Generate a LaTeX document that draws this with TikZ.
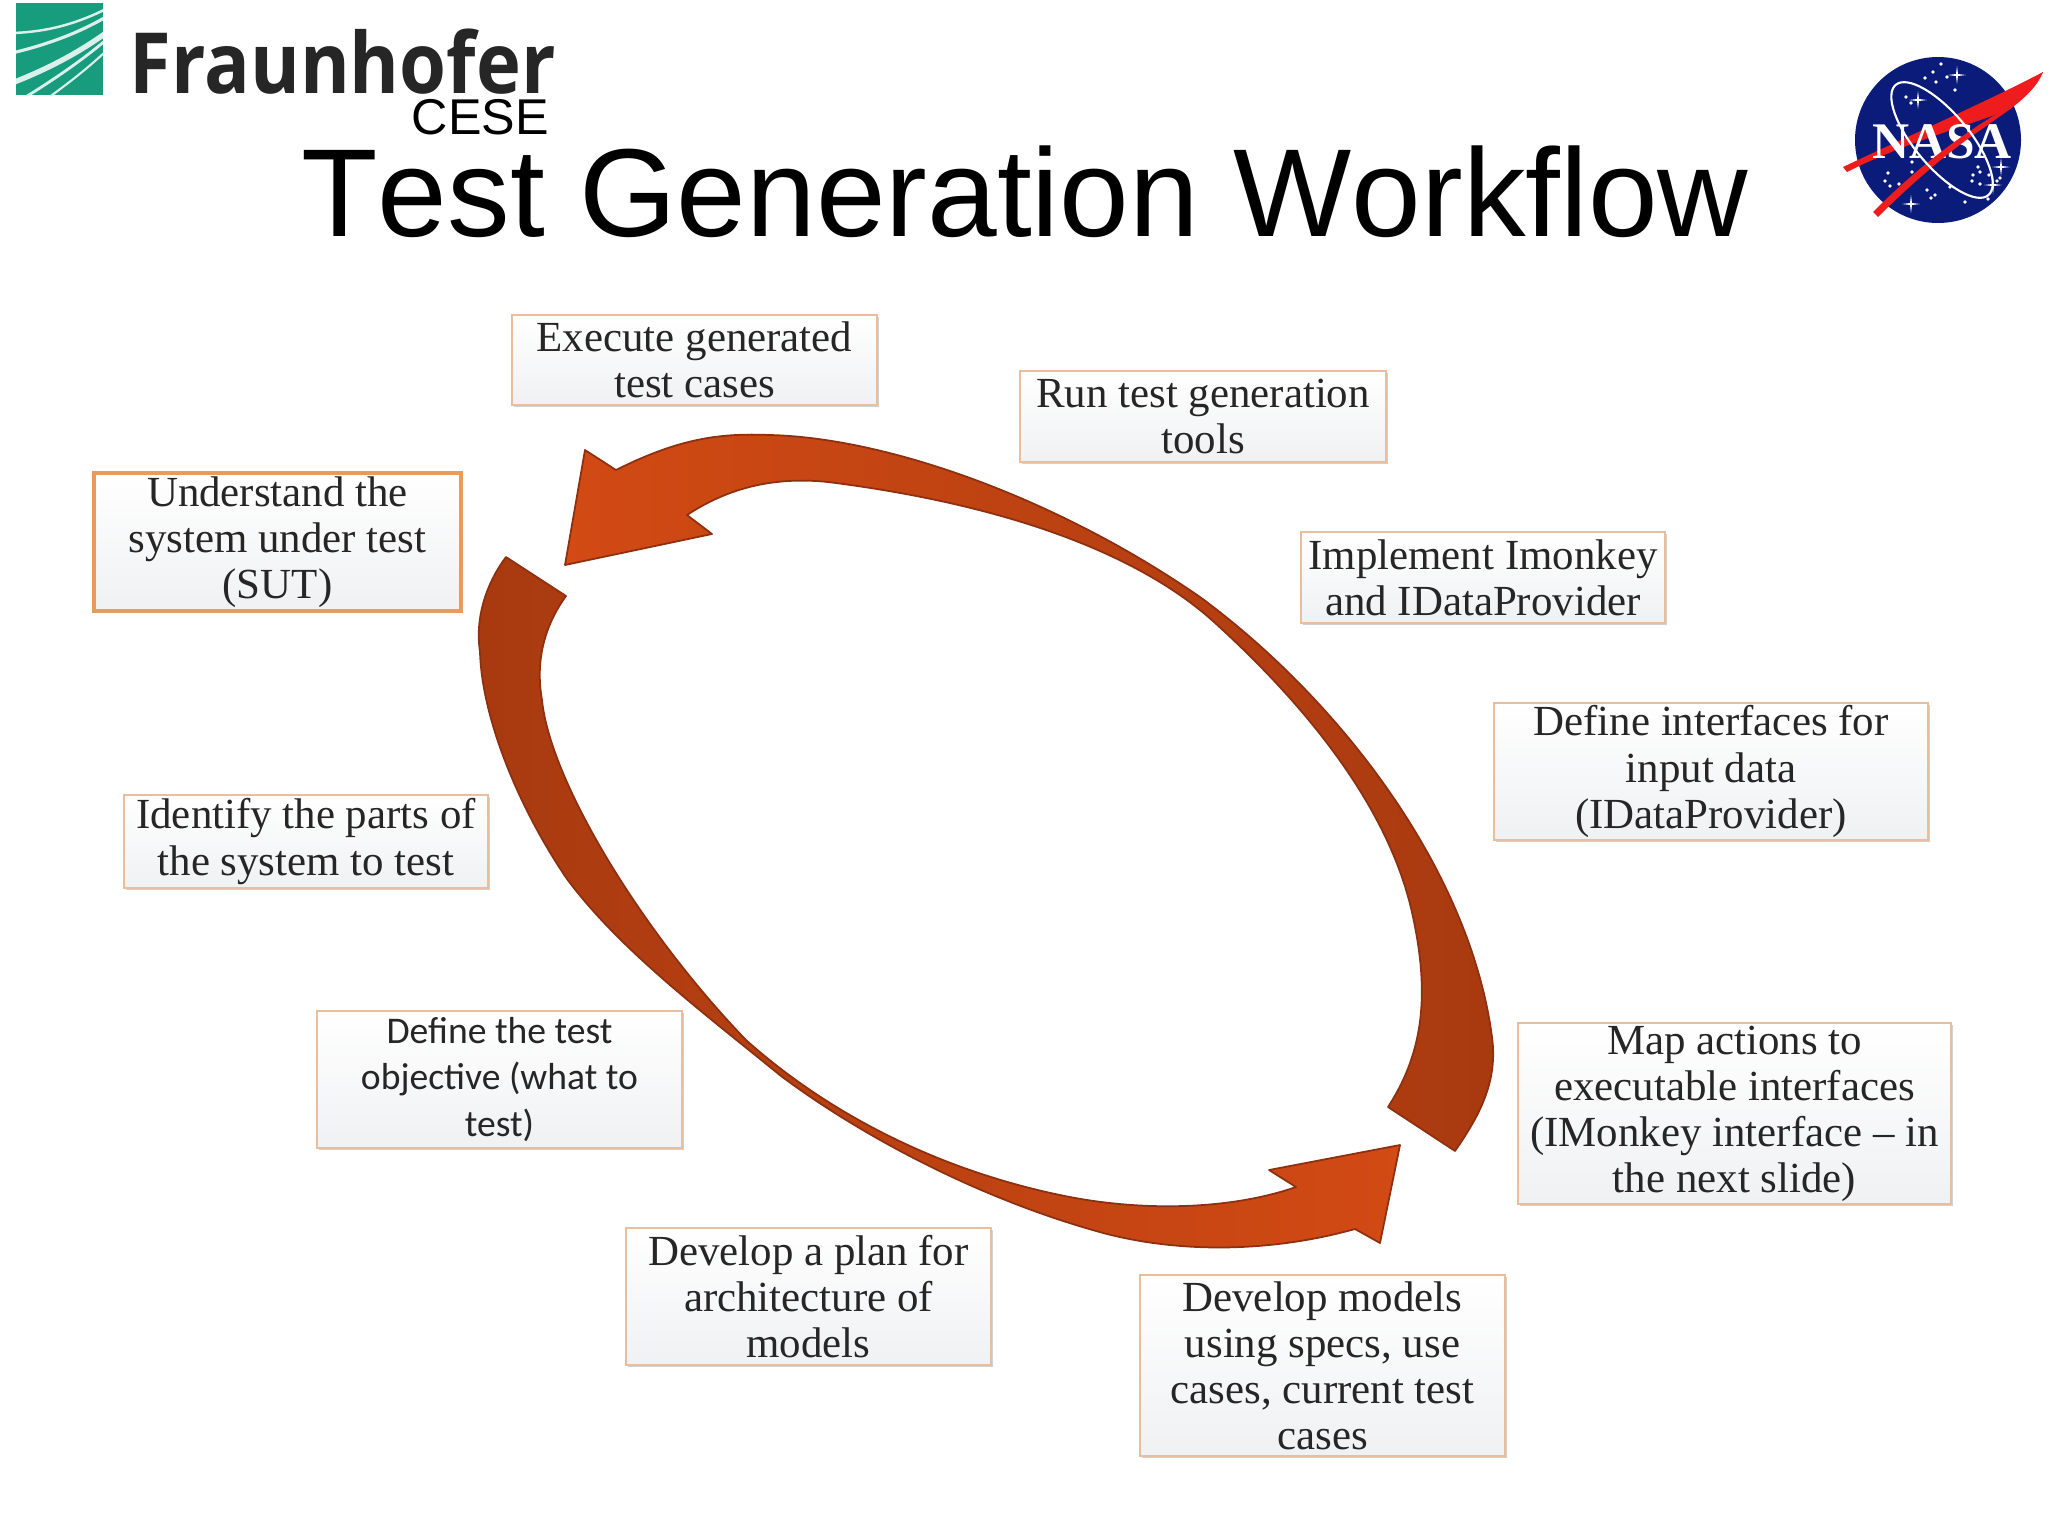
\documentclass[tikz,border=0pt]{standalone}
\usepackage{fontspec}
\setmainfont{Liberation Serif}
\setsansfont{Liberation Sans}
\newfontfamily\logofont{Open Sans}
\newfontfamily\stepfont{Carlito}
\newfontfamily\titlefont{Liberation Sans}[Kerning=Off]
\usetikzlibrary{shadows}
\definecolor{BoxClr}{HTML}{E9BE9C}
\definecolor{SutClr}{HTML}{E59C5C}
\definecolor{ArrowDark}{HTML}{A83A10}
\definecolor{ArrowMid}{HTML}{C44310}
\definecolor{ArrowLight}{HTML}{D24A14}
\definecolor{ArrowEdge}{HTML}{8E3010}
\definecolor{BoxLow}{HTML}{F0F1F3}
\definecolor{GreenClr}{HTML}{179C7D}
\definecolor{NasaBlue}{HTML}{0B1B7A}
\definecolor{NasaRed}{HTML}{EE1C1C}
\tikzset{
  stepbox/.style 2 args={draw=BoxClr,line width=.6pt,top color=white,bottom color=BoxLow,
    minimum width=#1cm,minimum height=#2cm,inner sep=0pt,align=flush center,text width=#1cm-2pt,
    text=black!85,font=\fontsize{12.2}{13.1}\selectfont,
    drop shadow={shadow xshift=.5pt,shadow yshift=-.5pt,opacity=.3,fill=black!60}},
  upperarrow/.style={draw=ArrowEdge,line width=.5pt,left color=ArrowLight,middle color=ArrowMid,right color=ArrowDark,line join=round},
  lowerarrow/.style={draw=ArrowEdge,line width=.5pt,left color=ArrowDark,middle color=ArrowMid,right color=ArrowLight,line join=round},
  greenline/.style={draw=white!85!GreenClr,line cap=round}
}
\begin{document}
\begin{tikzpicture}[x=.01cm,y=-.01cm]
\useasboundingbox (0,0) rectangle (2048,1536);

% logo on the left
\fill[GreenClr] (16,3) rectangle (103,95);
\begin{scope}
\clip (16,3) rectangle (103,95);
\draw[greenline,line width=.7pt] (12,33) .. controls (50,32) and (80,22) .. (106,9);
\draw[greenline,line width=.9pt] (12,53) .. controls (50,44) and (80,32) .. (106,17);
\draw[greenline,line width=1.5pt] (12,83) .. controls (45,70) and (75,55) .. (106,33);
\draw[greenline,line width=.8pt] (24,98) .. controls (50,82) and (80,62) .. (106,40);
\draw[greenline,line width=.6pt] (48,98) .. controls (70,82) and (88,68) .. (106,51);
\end{scope}
\node[anchor=base west,inner sep=0pt,xscale=.9,transform shape,text=black!85,font=\logofont\bfseries\fontsize{24}{24}\selectfont] (fraunhofer) at (129,93) {Fraunhofer};
\node[anchor=base west,inner sep=0pt,font=\sffamily\fontsize{14.3}{15}\selectfont] (cese) at (411,134) {CESE};
\node[anchor=base,inner sep=0pt,font=\titlefont\fontsize{35.6}{36}\selectfont] (title) at (1025,236) {Test Generation Workflow};

% logo on the right
\fill[NasaBlue] (1938,140) circle [radius=83];
\fill[NasaRed] (1843,167) .. controls (1900,140) and (1990,100) .. (2043,72)
  .. controls (2038,85) and (2025,100) .. (2000,113)
  .. controls (1960,128) and (1900,145) .. (1847,172) -- cycle;
\node[anchor=base,inner sep=0pt,text=white,font=\bfseries\fontsize{14.6}{15}\selectfont] (nasa) at (1942,158) {NASA};
\fill[NasaRed] (2043,72) .. controls (2030,100) and (2000,115) .. (1985,127)
  .. controls (1950,150) and (1910,185) .. (1878,217) -- (1873,212)
  .. controls (1905,180) and (1945,145) .. (1998,113) -- cycle;
\draw[white,line width=.6pt,rotate around={-50:(1942,140)}] (1942,140) ellipse [x radius=72,y radius=27];
\foreach \sx/\sy in {1941/64,1933/72,1925/78,1936/82,1947/77,1955/90,1906/97,1911/103,1912/162,1888/173,1885/181,1890/186,1899/184,1912/172,1927/190,1935/195,1931/198,1950/187,1965/202,1978/167,1973/175,1980/172,1972/181,1980/184,1989/175,2000/178,1988/199,1997/181}
  \fill[white] (\sx,\sy) circle [radius=1.8];
\foreach \sx/\sy in {1957/75,1918/100,2001/167,1993/185,1911/204}
  \fill[white] (\sx-9,\sy) -- (\sx-1,\sy-1) -- (\sx,\sy-9) -- (\sx+1,\sy-1) -- (\sx+9,\sy) -- (\sx+1,\sy+1) -- (\sx,\sy+9) -- (\sx-1,\sy+1) -- cycle;

% the two arrows
\path[upperarrow] (565,565) -- (585,450) -- (616,470)
  .. controls (680,438) and (720,433) .. (770,435)
  .. controls (890,438) and (1060,500) .. (1200,597)
  .. controls (1340,700) and (1470,870) .. (1492,1037)
  .. controls (1498,1081) and (1480,1115) .. (1455,1151)
  -- (1388,1107)
  .. controls (1425,1050) and (1430,990) .. (1411,908)
  .. controls (1385,800) and (1300,700) .. (1214,622)
  .. controls (1140,555) and (1010,505) .. (828,482)
  .. controls (770,476) and (725,490) .. (687,515)
  -- (712,534) -- cycle;
\path[lowerarrow] (506,557) -- (566,596)
  .. controls (545,625) and (535,660) .. (542,700)
  .. controls (550,780) and (640,930) .. (746,1040)
  .. controls (830,1115) and (940,1170) .. (1060,1195)
  .. controls (1140,1212) and (1230,1210) .. (1296,1187)
  -- (1269,1170) -- (1400,1145) -- (1380,1243) -- (1355,1229)
  .. controls (1280,1250) and (1190,1255) .. (1107,1234)
  .. controls (980,1200) and (860,1135) .. (781,1076)
  .. controls (700,1010) and (620,950) .. (567,879)
  .. controls (520,810) and (482,720) .. (480,652)
  .. controls (475,620) and (485,585) .. (506,557)
  -- cycle;

% the steps
\node[stepbox={3.65}{.90}] (execute) at (694.5,360) {Execute generated\\test cases};
\node[stepbox={3.66}{.91}] (runtools) at (1203,416.5) {Run test generation\\tools};
\node[stepbox={3.64}{.91}] (implement) at (1483,577.5) {Implement Imonkey\\and IDataProvider};
\node[stepbox={4.34}{1.37}] (interfaces) at (1711,771.5) {Define interfaces for\\input data\\(IDataProvider)};
\node[stepbox={4.33}{1.81}] (mapactions) at (1734.5,1113.5) {Map actions to\\executable interfaces\\(IMonkey interface -- in\\the next slide)};
\node[stepbox={3.65}{1.81}] (models) at (1322.5,1365.5) {Develop models\\using specs, use\\cases, current test\\cases};
\node[stepbox={3.65}{1.37}] (plan) at (808.5,1296.5) {Develop a plan for\\architecture of\\models};
\node[stepbox={3.65}{1.37},font=\stepfont\fontsize{10.7}{13.1}\selectfont] (objective) at (499.5,1079.5) {Define the test\\objective (what to\\test)};
\node[stepbox={3.64}{.93}] (identify) at (306,841.5) {Identify the parts of\\the system to test};
\node[stepbox={3.67}{1.38},draw=SutClr,line width=1.2pt] (understand) at (277.5,542) {Understand the\\system under test\\(SUT)};

\end{tikzpicture}
\end{document}
